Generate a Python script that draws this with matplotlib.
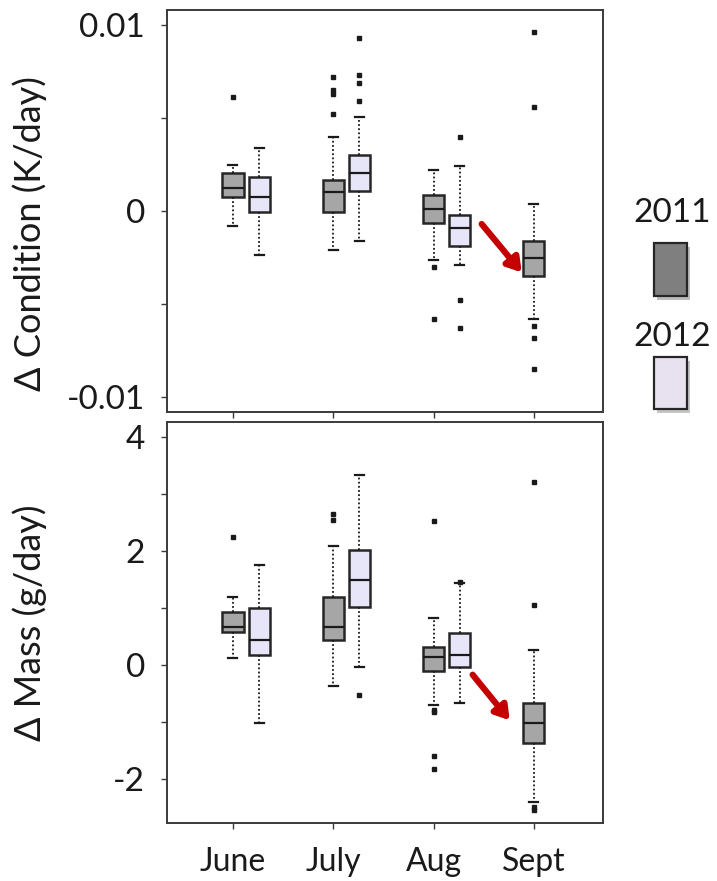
import matplotlib.pyplot as plt
import matplotlib.patches as mpatches
import matplotlib.patheffects as pe
import numpy as np

plt.rcParams['font.family'] = ['Lato', 'DejaVu Sans']

months = ['June', 'July', 'Aug', 'Sept']

# box summaries per month: whisker low, q1, median, q3, whisker high
cond_2011 = [
    [-0.0008, 0.00075, 0.00124, 0.00204, 0.00247],
    [-0.0021, -0.00005, 0.0010, 0.00167, 0.0040],
    [-0.00263, -0.00064, 0.0001, 0.00086, 0.0022],
    [-0.0058, -0.0035, -0.0025, -0.0016, 0.0004],
]
cond_2012 = [
    [-0.00237, -0.00005, 0.00075, 0.00183, 0.0034],
    [-0.0016, 0.00108, 0.00204, 0.0030, 0.00505],
    [-0.0029, -0.0019, -0.0009, -0.0002, 0.0024],
]
cond_fliers_2011 = [
    [0.0061],
    [0.0072, 0.0065, 0.0063, 0.0052],
    [-0.0030, -0.0058],
    [0.0096, 0.0056, -0.0062, -0.0068, -0.0085],
]
cond_fliers_2012 = [
    [],
    [0.0093, 0.0073, 0.0069, 0.0059],
    [0.0040, -0.0048, -0.0063],
]

mass_2011 = [
    [0.12, 0.58, 0.66, 0.93, 1.19],
    [-0.37, 0.44, 0.66, 1.19, 2.08],
    [-0.70, -0.10, 0.14, 0.32, 0.83],
    [-2.40, -1.37, -1.02, -0.66, 0.27],
]
mass_2012 = [
    [-1.02, 0.17, 0.44, 1.00, 1.75],
    [-0.03, 1.01, 1.49, 2.02, 3.33],
    [-0.66, -0.04, 0.17, 0.56, 1.44],
]
mass_fliers_2011 = [
    [2.25],
    [2.64, 2.54],
    [2.53, -0.79, -0.82, -1.59, -1.82],
    [3.21, 1.05, -2.49, -2.54],
]
mass_fliers_2012 = [
    [],
    [-0.53],
    [1.46],
]

colors = {'2011': '#a6a6a6', '2012': '#e6e6f8'}
legend_colors = {'2011': '#7f7f7f', '2012': '#e8e2f0'}
offset = 0.26


def make_stats(summary, fliers):
    stats = []
    for s, f in zip(summary, fliers):
        stats.append({'whislo': s[0], 'q1': s[1], 'med': s[2], 'q3': s[3],
                      'whishi': s[4], 'fliers': f})
    return stats


def draw_boxes(ax, summary, fliers, positions, color):
    ax.bxp(make_stats(summary, fliers), positions=positions, widths=0.21,
           patch_artist=True, capwidths=0.09,
           boxprops=dict(facecolor=color, edgecolor='#262626', linewidth=1.8),
           medianprops=dict(color='#1a1a1a', linewidth=1.6),
           whiskerprops=dict(color='#1a1a1a', linewidth=1.3, linestyle=(0, (1, 1.3))),
           capprops=dict(color='#1a1a1a', linewidth=1.6),
           flierprops=dict(marker='s', markersize=2.2, markerfacecolor='#1a1a1a',
                           markeredgecolor='#1a1a1a'))


def style_axes(ax):
    for sp in ax.spines.values():
        sp.set_color('#3a3a3a')
        sp.set_linewidth(1.4)
    ax.tick_params(direction='out', length=4, width=1, colors='#3a3a3a',
                   labelcolor='#1a1a1a', labelsize=24, pad=12)
    ax.tick_params(which='minor', direction='out', length=4, width=1, colors='#3a3a3a')
    ax.set_xlim(0.342, 4.69)
    ax.set_xticks([1, 2, 3, 4])


fig = plt.figure(figsize=(7.17, 8.81), dpi=100)
ax1 = fig.add_axes([0.2329, 0.5323, 0.6081, 0.4564])
ax2 = fig.add_axes([0.2329, 0.0658, 0.6081, 0.4552])

pos_2011 = [1, 2, 3, 4]
pos_2012 = [p + offset for p in pos_2011[:3]]

draw_boxes(ax1, cond_2011, cond_fliers_2011, pos_2011, colors['2011'])
draw_boxes(ax1, cond_2012, cond_fliers_2012, pos_2012, colors['2012'])
draw_boxes(ax2, mass_2011, mass_fliers_2011, pos_2011, colors['2011'])
draw_boxes(ax2, mass_2012, mass_fliers_2012, pos_2012, colors['2012'])

for ax in (ax1, ax2):
    style_axes(ax)

ax1.set_ylim(-0.0108, 0.0108)
ax1.set_yticks([-0.01, 0, 0.01])
ax1.set_yticklabels(['-0.01', '0', '0.01'])
ax1.set_yticks([-0.005, 0.005], minor=True)
ax1.set_xticklabels([])
ax1.set_ylabel('Δ Condition (K/day)', fontsize=26, color='#1a1a1a')
ax1.yaxis.set_label_coords(-0.275, 0.443)

ax2.set_ylim(-2.77, 4.26)
ax2.set_yticks([-2, 0, 2, 4])
ax2.set_yticklabels(['-2', '0', '2', '4'])
ax2.set_yticks([-1, 1, 3], minor=True)
ax2.set_xticklabels(months, fontsize=23)
ax2.tick_params(axis='x', pad=13)
ax2.set_ylabel('Δ Mass (g/day)', fontsize=26, color='#1a1a1a')
ax2.yaxis.set_label_coords(-0.275, 0.5)

# red arrows pointing at the September drop
shadow = [pe.SimplePatchShadow(offset=(2, -2), alpha=0.35), pe.Normal()]
arrow_style = dict(arrowstyle='-|>,head_length=0.8,head_width=0.5', lw=4.5,
                   color='#c40000', shrinkA=0, shrinkB=0, path_effects=shadow)
ax1.annotate('', xy=(3.88, -0.0033), xytext=(3.48, -0.0007), arrowprops=arrow_style)
ax2.annotate('', xy=(3.76, -0.97), xytext=(3.39, -0.17), arrowprops=arrow_style)

# legend drawn as labelled swatches to the right of the panels
W, H = fig.get_size_inches() * fig.dpi
for label, ty, y0, y1 in [('2011', 213, 243, 296), ('2012', 337, 357, 409)]:
    fig.text(672 / W, 1 - ty / H, label, fontsize=24, ha='center', va='center',
             color='#1a1a1a')
    rect = mpatches.Rectangle((654 / W, 1 - y1 / H), 33 / W, (y1 - y0) / H,
                              transform=fig.transFigure, facecolor=legend_colors[label],
                              edgecolor='#262626', linewidth=1.6,
                              path_effects=[pe.SimplePatchShadow(offset=(2, -3), alpha=0.3),
                                            pe.Normal()])
    fig.patches.append(rect)

fig.savefig('out.png', dpi=100)
